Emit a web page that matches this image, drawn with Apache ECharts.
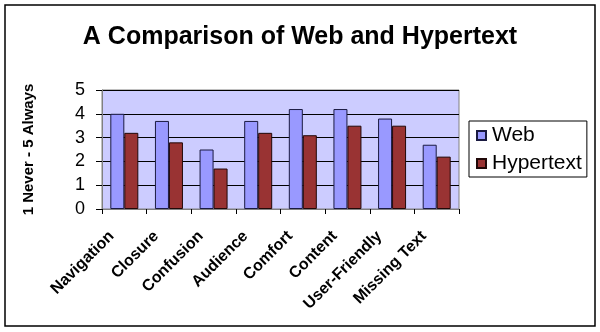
<!DOCTYPE html>
<html>
<head>
<meta charset="utf-8">
<script src="https://cdn.jsdelivr.net/npm/echarts@6/dist/echarts.min.js"></script>
<style>html,body{margin:0;padding:0;background:#fff}#c{width:600px;height:332px}</style>
</head>
<body>
<div id="c"></div>
<script>
var categories = ['Navigation', 'Closure', 'Confusion', 'Audience', 'Comfort', 'Content', 'User-Friendly', 'Missing Text'];
var webValues = [4.0, 3.7, 2.5, 3.7, 4.2, 4.2, 3.8, 2.7];
var hypertextValues = [3.2, 2.8, 1.7, 3.2, 3.1, 3.5, 3.5, 2.2];
var yTicks = [0, 1, 2, 3, 4, 5];

var chart = echarts.init(document.getElementById('c'));
var font = 'Arial, "Liberation Sans", sans-serif';
chart.setOption({
  animation: false,
  backgroundColor: '#ffffff',
  title: {
    text: 'A Comparison of Web and Hypertext',
    left: 'center',
    top: 20,
    textStyle: { fontFamily: font, fontSize: 25, fontWeight: 'bold', color: '#000' }
  },
  legend: {
    orient: 'vertical',
    left: 469,
    top: 121,
    padding: [4, 5, 3, 7],
    itemGap: 7,
    itemWidth: 9,
    itemHeight: 9,
    borderColor: '#000',
    borderWidth: 1,
    icon: 'rect',
    textStyle: { fontFamily: font, fontSize: 21, color: '#000', padding: [0, 0, 0, 1] },
    data: ['Web', 'Hypertext']
  },
  grid: {
    left: 102, right: 141, top: 90, bottom: 123,
    show: true,
    backgroundColor: '#ccccff',
    borderColor: '#808080',
    borderWidth: 1
  },
  xAxis: {
    type: 'category',
    data: categories,
    axisLine: { lineStyle: { color: '#808080', width: 1 } },
    axisTick: { show: true, length: 5, lineStyle: { color: '#000' } },
    axisLabel: {
      interval: 0,
      rotate: 45,
      margin: 12,
      padding: [0, 18, 0, 0],
      fontFamily: font,
      fontSize: 16,
      fontWeight: 'bold',
      color: '#000'
    }
  },
  yAxis: {
    type: 'value',
    min: yTicks[0],
    max: yTicks[yTicks.length - 1],
    interval: 1,
    name: '1 Never - 5 Always',
    nameLocation: 'middle',
    nameGap: 66,
    nameTextStyle: { fontFamily: font, fontSize: 15, fontWeight: 'bold', color: '#000' },
    axisLine: { show: true, lineStyle: { color: '#808080' } },
    axisTick: { show: true, length: 6, lineStyle: { color: '#000' } },
    axisLabel: { margin: 17, fontFamily: font, fontSize: 18, color: '#000' },
    splitLine: { show: true, lineStyle: { color: '#000', width: 1 } }
  },
  series: [
    {
      name: 'Web', type: 'bar', data: webValues,
      barWidth: 14, barGap: '0%',
      itemStyle: { color: '#9999ff', borderColor: '#1a1a40', borderWidth: 1 }
    },
    {
      name: 'Hypertext', type: 'bar', data: hypertextValues,
      barWidth: 14, barGap: '0%',
      itemStyle: { color: '#993333', borderColor: '#200808', borderWidth: 1 }
    }
  ],
  graphic: [
    {
      type: 'rect',
      shape: { x: 5, y: 5, width: 590, height: 321 },
      style: { fill: 'none', stroke: '#000', lineWidth: 1.5 },
      silent: true
    }
  ]
});
</script>
</body>
</html>
